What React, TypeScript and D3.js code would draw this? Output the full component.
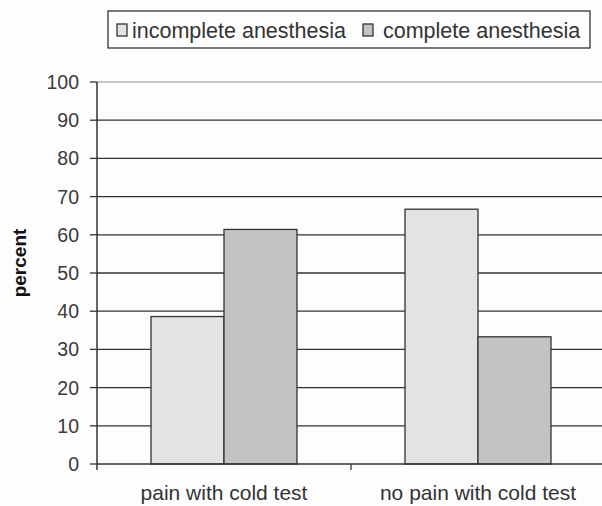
import React from "react";
import * as d3 from "d3";

const categories = ["pain with cold test", "no pain with cold test"];
const seriesNames = ["incomplete anesthesia", "complete anesthesia"];
const incomplete = [38.6, 66.7];
const complete = [61.4, 33.3];
const yTicks = [0, 10, 20, 30, 40, 50, 60, 70, 80, 90, 100];

const colors = ["#e3e3e3", "#c3c3c3"];
const FONT = "'Liberation Sans', Arial, sans-serif";

export default function App() {
  const W = 602, H = 506;
  const x0 = 97, x1 = 605, yBottom = 464, yTop = 82;
  const x = d3.scaleBand<string>().domain(categories).range([x0, x1]).padding(0);
  const inner = d3.scaleBand<string>().domain(seriesNames).range([0, x.bandwidth()]).paddingInner(0).paddingOuter(0.74);
  const y = d3.scaleLinear().domain([0, 100]).range([yBottom, yTop]);
  const series = [incomplete, complete];

  return (
    <svg width={W} height={H} style={{ position: "absolute", left: 0, top: 0, background: "#fff" }} fontFamily={FONT}>
      <rect x={0} y={0} width={W} height={H} fill="#fdfdfd" />
      {/* gridlines */}
      {yTicks.filter((t) => t > 0).map((t) => (
        <line key={t} x1={x0} x2={x1} y1={y(t)} y2={y(t)} stroke={t === 100 ? "#b8b8b8" : "#333"} strokeWidth={1.3} />
      ))}
      {/* bars */}
      {categories.map((c, ci) =>
        seriesNames.map((s, si) => {
          const bx = (x(c) as number) + (inner(s) as number);
          const v = series[si][ci];
          return (
            <rect key={c + s} x={bx} y={y(v)} width={inner.bandwidth()} height={y(0) - y(v)}
              fill={colors[si]} stroke="#333" strokeWidth={1.3} />
          );
        })
      )}
      {/* y axis */}
      <line x1={x0} x2={x0} y1={y(100)} y2={yBottom + 6} stroke="#333" strokeWidth={1.5} />
      {yTicks.map((t) => (
        <g key={t}>
          <line x1={x0 - 7} x2={x0} y1={y(t)} y2={y(t)} stroke="#333" strokeWidth={1.3} />
          <text x={79} y={y(t)} dy="0.36em" textAnchor="end" fontSize={19.5} fill="#3a3a3a">{t}</text>
        </g>
      ))}
      {/* x axis */}
      <line x1={x0} x2={x1} y1={yBottom} y2={yBottom} stroke="#333" strokeWidth={1.5} />
      {categories.map((c) => (
        <line key={c} x1={(x(c) as number) + x.bandwidth()} x2={(x(c) as number) + x.bandwidth()} y1={yBottom} y2={yBottom + 6} stroke="#333" strokeWidth={1.3} />
      ))}
      {categories.map((c) => (
        <text key={c} x={(x(c) as number) + x.bandwidth() / 2} y={500} textAnchor="middle" fontSize={21} fill="#333">{c}</text>
      ))}
      {/* y label */}
      <text transform="translate(26,263) rotate(-90)" textAnchor="middle" fontSize={19} fontWeight="bold" fill="#111">percent</text>
      {/* legend */}
      <rect x={108} y={11} width={482} height={37} fill="#fdfdfd" stroke="#333" strokeWidth={1.3} />
      <rect x={117} y={24} width={10} height={12} fill={colors[0]} stroke="#333" strokeWidth={1.3} />
      <text x={132} y={38} fontSize={21.5} fill="#333">{seriesNames[0]}</text>
      <rect x={363} y={24} width={10} height={12} fill={colors[1]} stroke="#333" strokeWidth={1.3} />
      <text x={383} y={38} fontSize={21.5} fill="#333">{seriesNames[1]}</text>
    </svg>
  );
}
